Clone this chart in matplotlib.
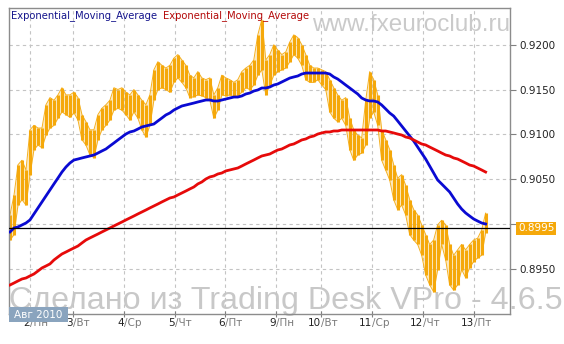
import matplotlib
matplotlib.use("Agg")
import matplotlib.pyplot as plt
from matplotlib.patches import Rectangle
import numpy as np

# hourly-ish bars (every ~2 h), EUR/CHF-like quote, Aug 2010
bar_high = [0.9010, 0.9032, 0.9066, 0.9071, 0.9060, 0.9105, 0.9110, 0.9107, 0.9107, 0.9133,
            0.9141, 0.9138, 0.9144, 0.9152, 0.9144, 0.9144, 0.9147, 0.9141, 0.9122, 0.9114,
            0.9105, 0.9105, 0.9122, 0.9129, 0.9133, 0.9138, 0.9152, 0.9150, 0.9152, 0.9147,
            0.9144, 0.9150, 0.9144, 0.9138, 0.9133, 0.9144, 0.9172, 0.9181, 0.9177, 0.9174,
            0.9177, 0.9185, 0.9189, 0.9183, 0.9177, 0.9166, 0.9163, 0.9170, 0.9163, 0.9161,
            0.9163, 0.9144, 0.9152, 0.9166, 0.9163, 0.9161, 0.9158, 0.9161, 0.9170, 0.9174,
            0.9177, 0.9183, 0.9211, 0.9228, 0.9183, 0.9189, 0.9200, 0.9194, 0.9189, 0.9192,
            0.9203, 0.9211, 0.9208, 0.9200, 0.9189, 0.9177, 0.9174, 0.9174, 0.9172, 0.9170,
            0.9161, 0.9152, 0.9144, 0.9138, 0.9141, 0.9118, 0.9105, 0.9099, 0.9096, 0.9138,
            0.9170, 0.9161, 0.9144, 0.9105, 0.9094, 0.9083, 0.9066, 0.9051, 0.9055, 0.9043,
            0.9027, 0.9016, 0.9010, 0.8999, 0.8988, 0.8977, 0.8982, 0.8999, 0.9004, 0.8999,
            0.8977, 0.8965, 0.8971, 0.8977, 0.8971, 0.8977, 0.8982, 0.8984, 0.8993, 0.9012]
bar_low = [0.8982, 0.8988, 0.9021, 0.9027, 0.9021, 0.9055, 0.9083, 0.9088, 0.9085, 0.9099,
           0.9107, 0.9110, 0.9118, 0.9125, 0.9122, 0.9119, 0.9124, 0.9116, 0.9094, 0.9088,
           0.9077, 0.9074, 0.9094, 0.9105, 0.9110, 0.9116, 0.9127, 0.9129, 0.9127, 0.9122,
           0.9116, 0.9125, 0.9118, 0.9105, 0.9097, 0.9110, 0.9138, 0.9150, 0.9152, 0.9150,
           0.9147, 0.9158, 0.9163, 0.9158, 0.9152, 0.9141, 0.9142, 0.9144, 0.9143, 0.9141,
           0.9138, 0.9118, 0.9127, 0.9144, 0.9143, 0.9144, 0.9142, 0.9143, 0.9147, 0.9152,
           0.9150, 0.9155, 0.9166, 0.9172, 0.9144, 0.9155, 0.9166, 0.9170, 0.9172, 0.9174,
           0.9181, 0.9189, 0.9185, 0.9177, 0.9161, 0.9158, 0.9158, 0.9161, 0.9155, 0.9150,
           0.9125, 0.9118, 0.9114, 0.9118, 0.9110, 0.9083, 0.9071, 0.9077, 0.9079, 0.9088,
           0.9118, 0.9125, 0.9110, 0.9071, 0.9060, 0.9049, 0.9027, 0.9016, 0.9021, 0.9010,
           0.8988, 0.8982, 0.8977, 0.8965, 0.8943, 0.8932, 0.8924, 0.8949, 0.8977, 0.8960,
           0.8932, 0.8926, 0.8932, 0.8949, 0.8940, 0.8951, 0.8958, 0.8962, 0.8965, 0.8990]

ema_fast = [0.89910, 0.89954, 0.89966, 0.89988, 0.90010, 0.90044, 0.90111, 0.90178, 0.90245, 0.90312,
            0.90379, 0.90446, 0.90512, 0.90579, 0.90635, 0.90680, 0.90713, 0.90724, 0.90736, 0.90747,
            0.90758, 0.90769, 0.90791, 0.90814, 0.90836, 0.90870, 0.90903, 0.90937, 0.90970, 0.91003,
            0.91026, 0.91037, 0.91059, 0.91082, 0.91093, 0.91104, 0.91115, 0.91149, 0.91182, 0.91216,
            0.91238, 0.91271, 0.91294, 0.91316, 0.91327, 0.91338, 0.91349, 0.91361, 0.91372, 0.91383,
            0.91383, 0.91372, 0.91372, 0.91383, 0.91394, 0.91405, 0.91416, 0.91416, 0.91428, 0.91450,
            0.91461, 0.91483, 0.91495, 0.91517, 0.91517, 0.91528, 0.91550, 0.91562, 0.91584, 0.91606,
            0.91628, 0.91640, 0.91651, 0.91673, 0.91684, 0.91684, 0.91684, 0.91684, 0.91684, 0.91684,
            0.91673, 0.91640, 0.91617, 0.91584, 0.91550, 0.91517, 0.91483, 0.91450, 0.91405, 0.91383,
            0.91372, 0.91372, 0.91361, 0.91327, 0.91283, 0.91238, 0.91204, 0.91149, 0.91093, 0.91037,
            0.90981, 0.90925, 0.90858, 0.90791, 0.90724, 0.90646, 0.90568, 0.90490, 0.90446, 0.90401,
            0.90356, 0.90289, 0.90222, 0.90166, 0.90122, 0.90088, 0.90055, 0.90032, 0.90010, 0.89999]

ema_slow = [0.89318, 0.89340, 0.89363, 0.89385, 0.89396, 0.89419, 0.89441, 0.89474, 0.89508, 0.89530,
            0.89553, 0.89597, 0.89631, 0.89664, 0.89686, 0.89709, 0.89731, 0.89753, 0.89787, 0.89820,
            0.89843, 0.89865, 0.89887, 0.89910, 0.89932, 0.89954, 0.89977, 0.89999, 0.90021, 0.90044,
            0.90066, 0.90088, 0.90111, 0.90133, 0.90155, 0.90178, 0.90200, 0.90222, 0.90245, 0.90267,
            0.90289, 0.90300, 0.90323, 0.90345, 0.90367, 0.90390, 0.90412, 0.90446, 0.90468, 0.90501,
            0.90524, 0.90535, 0.90557, 0.90568, 0.90591, 0.90602, 0.90613, 0.90624, 0.90646, 0.90669,
            0.90691, 0.90713, 0.90736, 0.90758, 0.90769, 0.90780, 0.90803, 0.90825, 0.90836, 0.90858,
            0.90881, 0.90892, 0.90914, 0.90937, 0.90948, 0.90970, 0.90981, 0.91003, 0.91015, 0.91026,
            0.91026, 0.91037, 0.91037, 0.91048, 0.91048, 0.91048, 0.91048, 0.91048, 0.91048, 0.91048,
            0.91048, 0.91048, 0.91048, 0.91037, 0.91037, 0.91026, 0.91015, 0.91003, 0.90992, 0.90970,
            0.90959, 0.90937, 0.90914, 0.90892, 0.90881, 0.90858, 0.90836, 0.90814, 0.90791, 0.90769,
            0.90758, 0.90736, 0.90724, 0.90702, 0.90680, 0.90657, 0.90646, 0.90624, 0.90602, 0.90579]

last_price = 0.8995

day_ticks = [5, 15.75, 28.5, 41.25, 53.75, 66.5, 77.75, 90.5, 103.25, 116]
day_nums = ["2", "3", "4", "5", "6", "9", "10", "11", "12", "13"]
day_names = ["Пн", "Вт", "Ср", "Чт", "Пт", "Пн", "Вт", "Ср", "Чт", "Пт"]
price_ticks = [0.8950, 0.9000, 0.9050, 0.9100, 0.9150, 0.9200]

W, H = 564, 344
fig = plt.figure(figsize=(W / 100, H / 100), dpi=100)
fig.patch.set_facecolor("white")
ax = fig.add_axes([9 / W, 1 - 314 / H, 501 / W, 306 / H])
ax.patch.set_visible(False)

x = np.arange(len(bar_high))

# watermarks (behind everything)
fig.text(312 / W, 1 - 31 / H, "www.fxeuroclub.ru", fontsize=17.5, family="Liberation Sans",
         color="#cacaca", ha="left", va="baseline", zorder=-5)
fig.text(9 / W, 1 - 309 / H, "Сделано из Trading Desk VPro - 4.6.5", fontsize=23.2,
         family="Liberation Sans", color="#c8c8c8", ha="left", va="baseline", zorder=-5)

ax.grid(True, color="#c4c4c4", linestyle=(0, (3, 3)), linewidth=0.8)
ax.set_axisbelow(True)

# price bars: high-low sticks plus a thin trace linking neighbouring bars
ax.vlines(x, bar_low, bar_high, color="#f5a80a", linewidth=2.2, zorder=2)
ax.fill_between(x, bar_low, bar_high, color="#f8c050", linewidth=0, alpha=0.35, zorder=1.9)
ax.plot(x, bar_high, color="#f5b020", linewidth=0.7, zorder=1.9)
ax.plot(x, bar_low, color="#f5b020", linewidth=0.7, zorder=1.9)

ax.plot(x, ema_fast, color="#0a0ad2", linewidth=2.0, zorder=3)
ax.plot(x, ema_slow, color="#e60a0a", linewidth=2.0, zorder=3)
ax.axhline(last_price, color="black", linewidth=0.9, zorder=4)

ax.set_xlim(-0.25, 125.1)
ax.set_ylim(0.88994, 0.92410)

ax.set_xticks(day_ticks)
ax.set_xticklabels([])
ax.set_yticks(price_ticks)
ax.set_yticklabels(["" if abs(p - 0.9) < 1e-6 else f"{p:.4f}" for p in price_ticks])
ax.yaxis.tick_right()
ax.tick_params(axis="y", which="both", direction="out", length=4, width=0.8, color="#808080",
               pad=3, labelsize=7.5, labelcolor="#222222")
ax.tick_params(axis="x", direction="inout", length=4, width=0.8, color="#808080")
for s in ax.spines.values():
    s.set_color("#8c8c8c")
    s.set_linewidth(1.0)

# day labels: number dark, weekday grey
for t, n, d in zip(day_ticks, day_nums, day_names):
    ax.annotate(n, xy=(t, 0), xycoords=("data", "axes fraction"), xytext=(0, -9),
                textcoords="offset pixels", ha="right", va="center", fontsize=7.5, color="#222222")
    ax.annotate("/" + d, xy=(t, 0), xycoords=("data", "axes fraction"), xytext=(0, -9),
                textcoords="offset pixels", ha="left", va="center", fontsize=7.5, color="#7a7a7a")

# legend text
fig.text(11 / W, 1 - 16 / H, "Exponential_Moving_Average", fontsize=7.2, color="#14148c",
         ha="left", va="center")
fig.text(163 / W, 1 - 16 / H, "Exponential_Moving_Average", fontsize=7.2, color="#b40a0a",
         ha="left", va="center")

# last price marker on the scale
ax.annotate(f"{last_price:.4f}", xy=(1, last_price), xycoords=("axes fraction", "data"),
            xytext=(8, 0), textcoords="offset pixels", ha="left", va="center", fontsize=7.5,
            color="white", bbox=dict(boxstyle="square,pad=0.15", facecolor="#f5a80a",
                                     edgecolor="none"), annotation_clip=False)

# month box
fig.patches.append(Rectangle((9 / W, 1 - 322 / H), 59 / W, 15 / H, transform=fig.transFigure,
                             facecolor="#8aa4be", edgecolor="none", zorder=5))
fig.text(38.5 / W, 1 - 314.5 / H, "Авг 2010", fontsize=7.5, color="white", ha="center",
         va="center", zorder=6)

fig.savefig("out.png", dpi=100)
